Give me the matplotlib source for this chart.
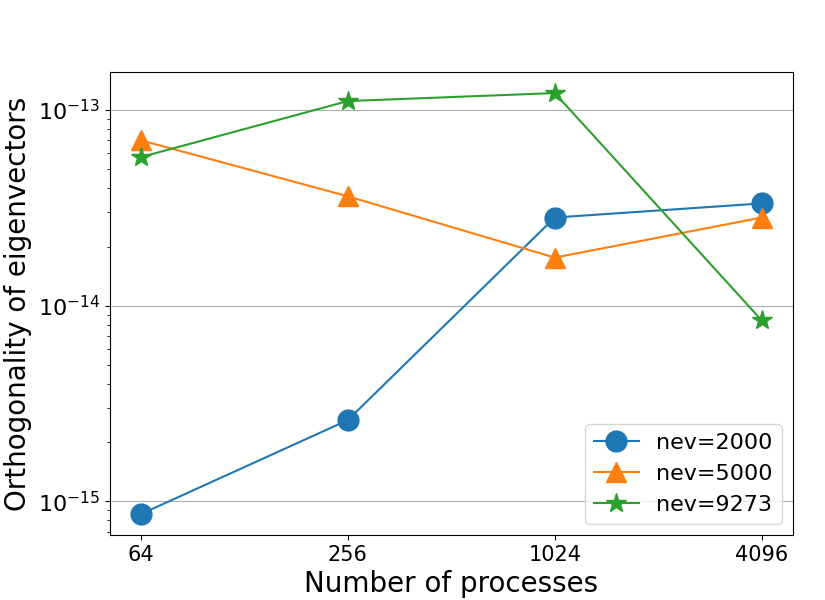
import matplotlib
matplotlib.use("Agg")
import matplotlib.pyplot as plt
import numpy as np

# process counts on the x axis
procs = ["64", "256", "1024", "4096"]
# orthogonality values
nev2000 = [8.6e-16, 2.6e-15, 2.82e-14, 3.33e-14]
nev5000 = [7.0e-14, 3.62e-14, 1.76e-14, 2.82e-14]
nev9273 = [5.74e-14, 1.11e-13, 1.22e-13, 8.4e-15]

x = np.arange(len(procs))

fig, ax = plt.subplots(figsize=(8.25, 6), dpi=100)
plt.subplots_adjust(left=0.133, right=0.961, top=0.88, bottom=0.108)

ax.plot(x, nev2000, marker="o", markersize=15, label="nev=2000")
ax.plot(x, nev5000, marker="^", markersize=15, label="nev=5000")
ax.plot(x, nev9273, marker="*", markersize=15, label="nev=9273")

ax.set_yscale("log")
ax.set_xticks(x)
ax.set_xticklabels(procs)
ax.tick_params(axis="x", which="major", labelsize=15)
ax.tick_params(axis="y", which="major", labelsize=16)
ax.grid(True, axis="y", which="major")
ax.set_xlabel("Number of processes", fontsize=20)
ax.set_ylabel("Orthogonality of eigenvectors", fontsize=20)
ax.legend(loc="lower right", fontsize=16)

plt.savefig("out.png")
